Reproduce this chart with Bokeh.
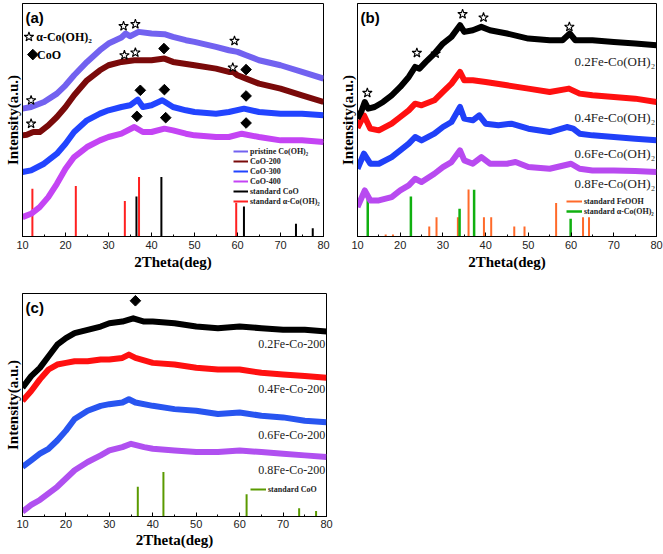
from bokeh.plotting import figure
from bokeh.layouts import column, row
from bokeh.models import Label, Legend, LegendItem, SingleIntervalTicker, FixedTicker
from bokeh.embed import file_html
from bokeh.resources import INLINE

# ---------------- Panel (a) data ----------------
a_pristine_x = [10, 12, 15, 18, 20, 22, 25, 28, 30, 33, 34, 35, 37, 40, 43, 45, 48, 50, 55, 58, 60, 62, 65, 70, 75, 80]
a_pristine_y = [383, 388, 403, 428, 453, 483, 523, 558, 578, 596, 608, 600, 613, 608, 606, 598, 588, 583, 568, 558, 553, 543, 528, 513, 493, 473]
a_co200_x = [10, 11, 12.5, 14, 16, 18, 20, 22, 25, 28, 30, 33, 36, 40, 43, 45, 50, 55, 58, 59, 60, 62, 65, 70, 75, 80]
a_co200_y = [303, 305, 313, 313, 333, 358, 388, 423, 468, 498, 513, 523, 528, 528, 533, 523, 513, 503, 493, 493, 483, 473, 458, 443, 423, 403]
a_co300_x = [10, 12, 15, 18, 20, 22, 25, 28, 30, 33, 35, 36.8, 38, 40, 42.5, 45, 48, 50, 55, 58, 61.5, 65, 70, 75, 80]
a_co300_y = [193, 198, 218, 248, 278, 313, 348, 368, 378, 388, 393, 410, 388, 393, 408, 388, 378, 373, 368, 373, 383, 373, 368, 368, 363]
a_co400_x = [10, 12, 14, 16, 18, 20, 22, 25, 28, 30, 33, 36, 38, 40, 43, 45, 48, 50, 55, 58, 61, 65, 70, 75, 80]
a_co400_y = [58, 68, 88, 118, 158, 203, 238, 268, 288, 298, 308, 328, 313, 313, 323, 318, 308, 303, 298, 298, 308, 298, 288, 288, 283]
a_std_coo_x = [36.5, 42.3, 61.5, 73.6, 77.5]
a_std_coo_y = [120, 178, 90, 38, 25]
a_std_oh_x = [12.3, 22.4, 33.8, 37.1, 59.7]
a_std_oh_y = [143, 151, 106, 178, 101]
a_star_x = [12.0, 12.0, 33.5, 36.25, 33.7, 36.25, 59.3, 58.9]
a_star_y = [408, 338, 630, 636, 543, 551, 586, 506]
a_diam_x = [42.9, 62.0, 37.4, 43.0, 62.0, 36.6, 43.3, 62.0]
a_diam_y = [563, 500, 438, 440, 421, 360, 356, 340]
a_names = ["pristine Co(OH)\u2082", "CoO-200", "CoO-300", "CoO-400", "standard CoO", "standard \u03b1-Co(OH)\u2082"]

# ---------------- Panel (b) data ----------------
b_fe02_x = [10, 11, 11.7, 12.5, 14, 16, 18, 20, 22, 23.5, 24.5, 26, 28, 30, 32, 34, 35, 37, 39, 41, 45, 50, 55, 58, 59.7, 61, 65, 70, 75, 80]
b_fe02_y = [353, 378, 403, 383, 388, 403, 423, 448, 478, 508, 503, 523, 548, 578, 598, 633, 613, 618, 628, 618, 608, 593, 588, 588, 608, 588, 588, 583, 578, 573]
b_fe04_x = [10, 11.5, 13, 15, 18, 20, 22, 23.5, 25, 28, 30, 32, 34, 35, 37, 40, 45, 50, 55, 59.5, 62, 65, 70, 75, 80]
b_fe04_y = [325, 363, 323, 318, 338, 358, 378, 398, 393, 408, 433, 458, 493, 468, 468, 463, 453, 443, 433, 443, 428, 423, 418, 413, 403]
b_fe06_x = [10, 11.5, 13, 15, 18, 20, 22, 23.5, 25, 28, 30, 32, 34, 35, 37, 38.5, 40, 43, 46, 50, 55, 59, 60.5, 62, 65, 70, 75, 80]
b_fe06_y = [203, 248, 218, 218, 238, 258, 278, 298, 288, 308, 328, 343, 388, 353, 348, 363, 338, 333, 338, 323, 313, 328, 323, 308, 303, 298, 293, 288]
b_fe08_x = [10, 11.7, 13, 15, 18, 20, 22, 23.5, 25, 28, 30, 32, 34, 35, 37, 39, 41, 45, 47, 50, 55, 60, 62, 65, 70, 75, 80]
b_fe08_y = [88, 138, 108, 108, 118, 138, 153, 173, 163, 188, 208, 223, 258, 228, 218, 238, 218, 218, 223, 208, 203, 218, 203, 198, 198, 196, 193]
b_feooh_x = [16.6, 18.3, 26.8, 28.5, 33.5, 36.0, 39.6, 41.3, 46.7, 49.1, 56.5, 62.8, 64.2]
b_feooh_y = [6, 6, 30, 58, 58, 141, 58, 58, 30, 30, 100, 58, 58]
b_std_oh_x = [12.4, 22.5, 33.9, 37.3, 59.9]
b_std_oh_y = [113, 120, 83, 140, 53]
b_star_x = [12.3, 23.9, 28.3, 34.6, 39.5, 59.6]
b_star_y = [430, 550, 548, 666, 656, 628]
b_labels = ["0.2Fe-Co(OH)\u2082", "0.4Fe-Co(OH)\u2082", "0.6Fe-Co(OH)\u2082", "0.8Fe-Co(OH)\u2082"]
b_label_y = [523, 355, 250, 158]

# ---------------- Panel (c) data ----------------
c_fe02_x = [10, 12, 14, 16, 18, 20, 22, 25, 28, 30, 33, 35.5, 38, 40, 45, 50, 55, 60, 65, 70, 75, 80]
c_fe02_y = [390, 425, 450, 485, 520, 540, 555, 565, 575, 585, 590, 600, 590, 590, 585, 575, 570, 575, 570, 565, 565, 560]
c_fe04_x = [10, 12, 14, 16, 18, 20, 22, 25, 28, 30, 33, 34.5, 36, 40, 45, 50, 55, 60, 65, 70, 75, 80]
c_fe04_y = [350, 380, 415, 445, 460, 465, 470, 470, 475, 475, 480, 490, 480, 465, 460, 450, 445, 445, 435, 430, 425, 420]
c_fe06_x = [10, 12, 14, 16, 18, 20, 22, 25, 28, 30, 33, 34.5, 36, 40, 45, 50, 55, 60, 65, 70, 75, 80]
c_fe06_y = [150, 170, 190, 205, 230, 260, 295, 320, 335, 340, 345, 355, 345, 335, 325, 320, 310, 315, 305, 300, 290, 285]
c_fe08_x = [10, 12, 14, 16, 18, 20, 22, 25, 28, 30, 33, 35, 38, 40, 45, 50, 55, 60, 65, 70, 75, 80]
c_fe08_y = [15, 35, 50, 70, 90, 115, 140, 165, 185, 200, 210, 220, 210, 205, 200, 195, 195, 200, 195, 190, 185, 180]
c_std_coo_x = [36.55, 42.45, 61.6, 73.7, 77.6]
c_std_coo_y = [90, 135, 67, 25, 17]
c_diam_x = [36.0]
c_diam_y = [653]
c_labels = ["0.2Fe-Co-200", "0.4Fe-Co-200", "0.6Fe-Co-200", "0.8Fe-Co-200"]
c_label_y = [522, 387, 248, 140]

SERIF = "Liberation Serif"
SANS = "Liberation Sans"


def make_fig(width, height, ymax, bl, br, bt, bb):
    p = figure(width=width, height=height, x_range=(10, 80), y_range=(0, ymax),
               output_backend="svg", toolbar_location=None,
               min_border_left=bl, min_border_right=br, min_border_top=bt, min_border_bottom=bb)
    p.xgrid.visible = False
    p.ygrid.visible = False
    p.outline_line_color = "black"
    p.outline_line_width = 1
    p.background_fill_color = "white"
    p.border_fill_color = "white"
    xa = p.xaxis[0]
    xa.ticker = SingleIntervalTicker(interval=10, num_minor_ticks=2)
    xa.major_tick_in = 4
    xa.major_tick_out = 0
    xa.minor_tick_in = 2
    xa.minor_tick_out = 0
    xa.axis_line_color = "black"
    xa.major_tick_line_color = "black"
    xa.minor_tick_line_color = "black"
    xa.major_label_text_font = SANS
    xa.major_label_text_font_size = "11px"
    xa.major_label_text_color = "#222222"
    xa.major_label_standoff = 4
    xa.axis_label = "2Theta(deg)"
    xa.axis_label_text_font = SERIF
    xa.axis_label_text_font_style = "bold"
    xa.axis_label_text_font_size = "15px"
    xa.axis_label_text_color = "black"
    xa.axis_label_standoff = 2
    ya = p.yaxis[0]
    ya.ticker = FixedTicker(ticks=[])
    ya.major_label_text_font_size = "0px"
    ya.major_tick_line_color = None
    ya.minor_tick_line_color = None
    ya.axis_line_color = "black"
    ya.axis_label = "Intensity(a.u.)"
    ya.axis_label_text_font = SERIF
    ya.axis_label_text_font_style = "bold"
    ya.axis_label_text_font_size = "15px"
    ya.axis_label_text_color = "black"
    ya.axis_label_standoff = 2
    return p


def panel_label(p, text, ymax):
    p.add_layout(Label(x=10.7, y=ymax, text=text, text_font=SANS, text_font_style="bold",
                       text_font_size="15px", text_baseline="top", y_offset=-5, text_color="black"))


def make_legend(p, names, renderers, loc, gw=16):
    items = [LegendItem(label=n, renderers=[r]) for n, r in zip(names, renderers)]
    leg = Legend(items=items, location=loc, background_fill_alpha=0, border_line_alpha=0,
                 padding=0, margin=0, spacing=0, label_standoff=2, glyph_width=gw,
                 glyph_height=10, label_height=10, label_text_font=SERIF,
                 label_text_font_style="bold", label_text_font_size="8px",
                 label_text_color="#222222")
    p.add_layout(leg)


CW = 6
STAR = dict(marker="star", size=10, fill_color="white", line_color="black", line_width=1.1)
DIAM = dict(marker="square", angle=0.785, size=7.5, fill_color="black", line_color="black")

# ---------------- Panel (a) ----------------
pa = make_fig(335, 278, 698, 22, 12, 3, 42)
a_colors = ["#7262F0", "#7A0A0A", "#2244FF", "#C444F4", "black", "#FF2020"]
r_oh = pa.segment(x0=a_std_oh_x, y0=[0] * len(a_std_oh_x), x1=a_std_oh_x, y1=a_std_oh_y, line_color=a_colors[5], line_width=2)
r_coo = pa.segment(x0=a_std_coo_x, y0=[0] * len(a_std_coo_x), x1=a_std_coo_x, y1=a_std_coo_y, line_color=a_colors[4], line_width=2)
a_series = [(a_pristine_x, a_pristine_y), (a_co200_x, a_co200_y), (a_co300_x, a_co300_y), (a_co400_x, a_co400_y)]
thin_a = [pa.line(xs, ys, line_color=c, line_width=2) for (xs, ys), c in zip(a_series, a_colors)]
for (xs, ys), c in list(zip(a_series, a_colors))[::-1]:
    pa.line(xs, ys, line_color=c, line_width=CW, line_join="round")
pa.scatter(a_star_x, a_star_y, **STAR)
pa.scatter(a_diam_x, a_diam_y, **DIAM)
# marker key
pa.scatter([11.5], [598], **STAR)
pa.scatter([12.4], [545], **DIAM)
pa.add_layout(Label(x=13.2, y=598, text="\u03b1-Co(OH)\u2082", text_font=SERIF, text_font_style="bold",
                    text_font_size="12px", text_baseline="middle", text_color="black"))
pa.add_layout(Label(x=13.4, y=545, text="CoO", text_font=SERIF, text_font_style="bold",
                    text_font_size="12px", text_baseline="middle", text_color="black"))
panel_label(pa, "(a)", 698)
make_legend(pa, a_names, thin_a + [r_coo, r_oh], (211, 30), gw=15)

# ---------------- Panel (b) ----------------
pb = make_fig(328, 278, 698, 22, 7, 3, 42)
b_colors = ["black", "#FF1010", "#2040F8", "#B84AF0"]
r_fe = pb.segment(x0=b_feooh_x, y0=[0] * len(b_feooh_x), x1=b_feooh_x, y1=b_feooh_y, line_color="#FF6A2A", line_width=2)
r_boh = pb.segment(x0=b_std_oh_x, y0=[0] * len(b_std_oh_x), x1=b_std_oh_x, y1=b_std_oh_y, line_color="#10B010", line_width=2.5)
pb.scatter(b_star_x, b_star_y, **STAR)
b_series = [(b_fe02_x, b_fe02_y), (b_fe04_x, b_fe04_y), (b_fe06_x, b_fe06_y), (b_fe08_x, b_fe08_y)]
for (xs, ys), c in list(zip(b_series, b_colors))[::-1]:
    pb.line(xs, ys, line_color=c, line_width=CW, line_join="round")
for t, yv in zip(b_labels, b_label_y):
    pb.add_layout(Label(x=79.7, y=yv, text=t, text_font=SERIF, text_font_size="13px",
                        text_align="right", text_baseline="middle", text_color="#222222"))
panel_label(pb, "(b)", 698)
make_legend(pb, ["standard FeOOH", "standard \u03b1-Co(OH)\u2082"], [r_fe, r_boh], (209, 20))

# ---------------- Panel (c) ----------------
pc = make_fig(340, 274, 675, 22, 14, 15, 36)
pc.xaxis[0].major_label_standoff = 3
pc.xaxis[0].axis_label_standoff = 1
c_colors = ["black", "#FF1010", "#2855F0", "#B050F0"]
r_cco = pc.segment(x0=c_std_coo_x, y0=[0] * len(c_std_coo_x), x1=c_std_coo_x, y1=c_std_coo_y, line_color="#5A9A00", line_width=2)
c_series = [(c_fe02_x, c_fe02_y), (c_fe04_x, c_fe04_y), (c_fe06_x, c_fe06_y), (c_fe08_x, c_fe08_y)]
for (xs, ys), c in list(zip(c_series, c_colors))[::-1]:
    pc.line(xs, ys, line_color=c, line_width=CW, line_join="round")
pc.scatter(c_diam_x, c_diam_y, **DIAM)
for t, yv in zip(c_labels, c_label_y):
    pc.add_layout(Label(x=79.7, y=yv, text=t, text_font=SERIF, text_font_size="12px",
                        text_align="right", text_baseline="middle", text_color="#222222"))
panel_label(pc, "(c)", 675)
make_legend(pc, ["standard CoO"], [r_cco], (228, 22))

root = column(row(pa, pb), pc, margin=0)

with open("out.html", "w") as f:
    f.write(file_html(root, INLINE))
